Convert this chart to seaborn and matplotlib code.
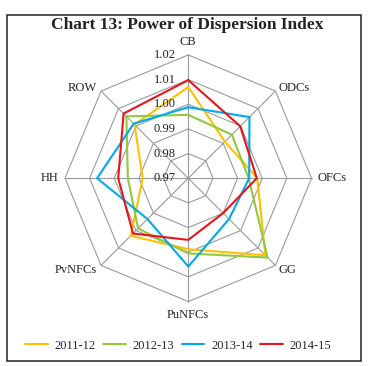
import numpy as np
import pandas as pd
import matplotlib
matplotlib.use('Agg')
import matplotlib.pyplot as plt
from matplotlib.patches import Rectangle
import seaborn as sns

# data
categories = ['CB', 'ODCs', 'OFCs', 'GG', 'PuNFCs', 'PvNFCs', 'HH', 'ROW']
years = ['2011-12', '2012-13', '2013-14', '2014-15']
v_2011 = [1.0070, 0.9910, 0.9980, 1.0142, 0.9988, 1.0030, 0.9885, 1.0008]
v_2012 = [0.9957, 0.9950, 0.9945, 1.0155, 1.0005, 0.9988, 0.9945, 1.0055]
v_2013 = [0.9988, 1.0051, 0.9947, 0.9934, 1.0058, 0.9934, 1.0070, 1.0013]
v_2014 = [1.0098, 0.9998, 0.9978, 0.9900, 0.9950, 1.0017, 0.9984, 1.0071]
r_ticks = [0.97, 0.98, 0.99, 1.00, 1.01, 1.02]
tick_labels = ['0.97', '0.98', '0.99', '1.00', '1.01', '1.02']

colors = {'2011-12': '#FFC000', '2012-13': '#92C83E', '2013-14': '#00A9EC', '2014-15': '#E8141C'}

sns.set_style('white')
plt.rcParams['font.family'] = ['Liberation Serif', 'DejaVu Serif']

n = len(categories)
angles = np.linspace(0, 2 * np.pi, n, endpoint=False)
angles_closed = np.append(angles, 2 * np.pi)

rows = []
for year, vals in zip(years, [v_2011, v_2012, v_2013, v_2014]):
    closed = list(vals) + [vals[0]]
    for a, v in zip(angles_closed, closed):
        rows.append({'theta': a, 'value': v, 'year': year})
df = pd.DataFrame(rows)

fig = plt.figure(figsize=(3.68, 3.66), dpi=100)
ax = fig.add_axes([0.1766, 0.176, 0.670, 0.674], projection='polar')
ax.set_theta_zero_location('N')
ax.set_theta_direction(-1)
ax.set_ylim(0.97, 1.02)
ax.grid(False)
ax.spines['polar'].set_visible(False)
ax.set_xticks([])
ax.set_yticks([])

grid_col = '#9A9A9A'
for r in r_ticks[1:]:
    ax.plot(angles_closed, [r] * len(angles_closed), color=grid_col, lw=0.8, zorder=1, clip_on=False)
for a in angles:
    ax.plot([a, a], [0.97, 1.02], color=grid_col, lw=0.8, zorder=1, clip_on=False)

sns.lineplot(data=df, x='theta', y='value', hue='year', palette=colors, estimator=None,
             sort=False, lw=1.5, ax=ax, zorder=3)
ax.set_xlabel('')
ax.set_ylabel('')
handles, labels = ax.get_legend_handles_labels()
ax.get_legend().remove()

# radial tick labels along CB axis
for r, t in zip(r_ticks, tick_labels):
    ax.annotate(t, xy=(0, r), xytext=(-9, 0), textcoords='offset points',
                ha='right', va='center', fontsize=9, color='#222222', annotation_clip=False)

# category labels around the outside
offsets = [(0, 9, 'center', 'center'), (2, 2, 'left', 'center'), (4, 0, 'left', 'center'),
           (2, -3, 'left', 'center'), (0, -10, 'center', 'center'), (-3, -3, 'right', 'center'),
           (-5, 0, 'right', 'center'), (-3, 2, 'right', 'center')]
for a, c, (dx, dy, ha, va) in zip(angles, categories, offsets):
    ax.annotate(c, xy=(a, 1.02), xytext=(dx, dy), textcoords='offset points',
                ha=ha, va=va, fontsize=9, color='#222222', annotation_clip=False)

fig.text(0.508, 0.933, 'Chart 13: Power of Dispersion Index', ha='center', va='center',
         fontsize=12.5, fontweight='bold', color='#222222')

fig.legend(handles, labels, loc='center', bbox_to_anchor=(0.485, 0.055), ncol=4, frameon=False,
           fontsize=9, handlelength=1.8, handletextpad=0.55, columnspacing=0.6)

fig.patches.append(Rectangle((0.018, 0.0137), 0.963, 0.945, transform=fig.transFigure,
                             fill=False, edgecolor='#222222', lw=1.1))

fig.savefig('out.png', dpi=100)
